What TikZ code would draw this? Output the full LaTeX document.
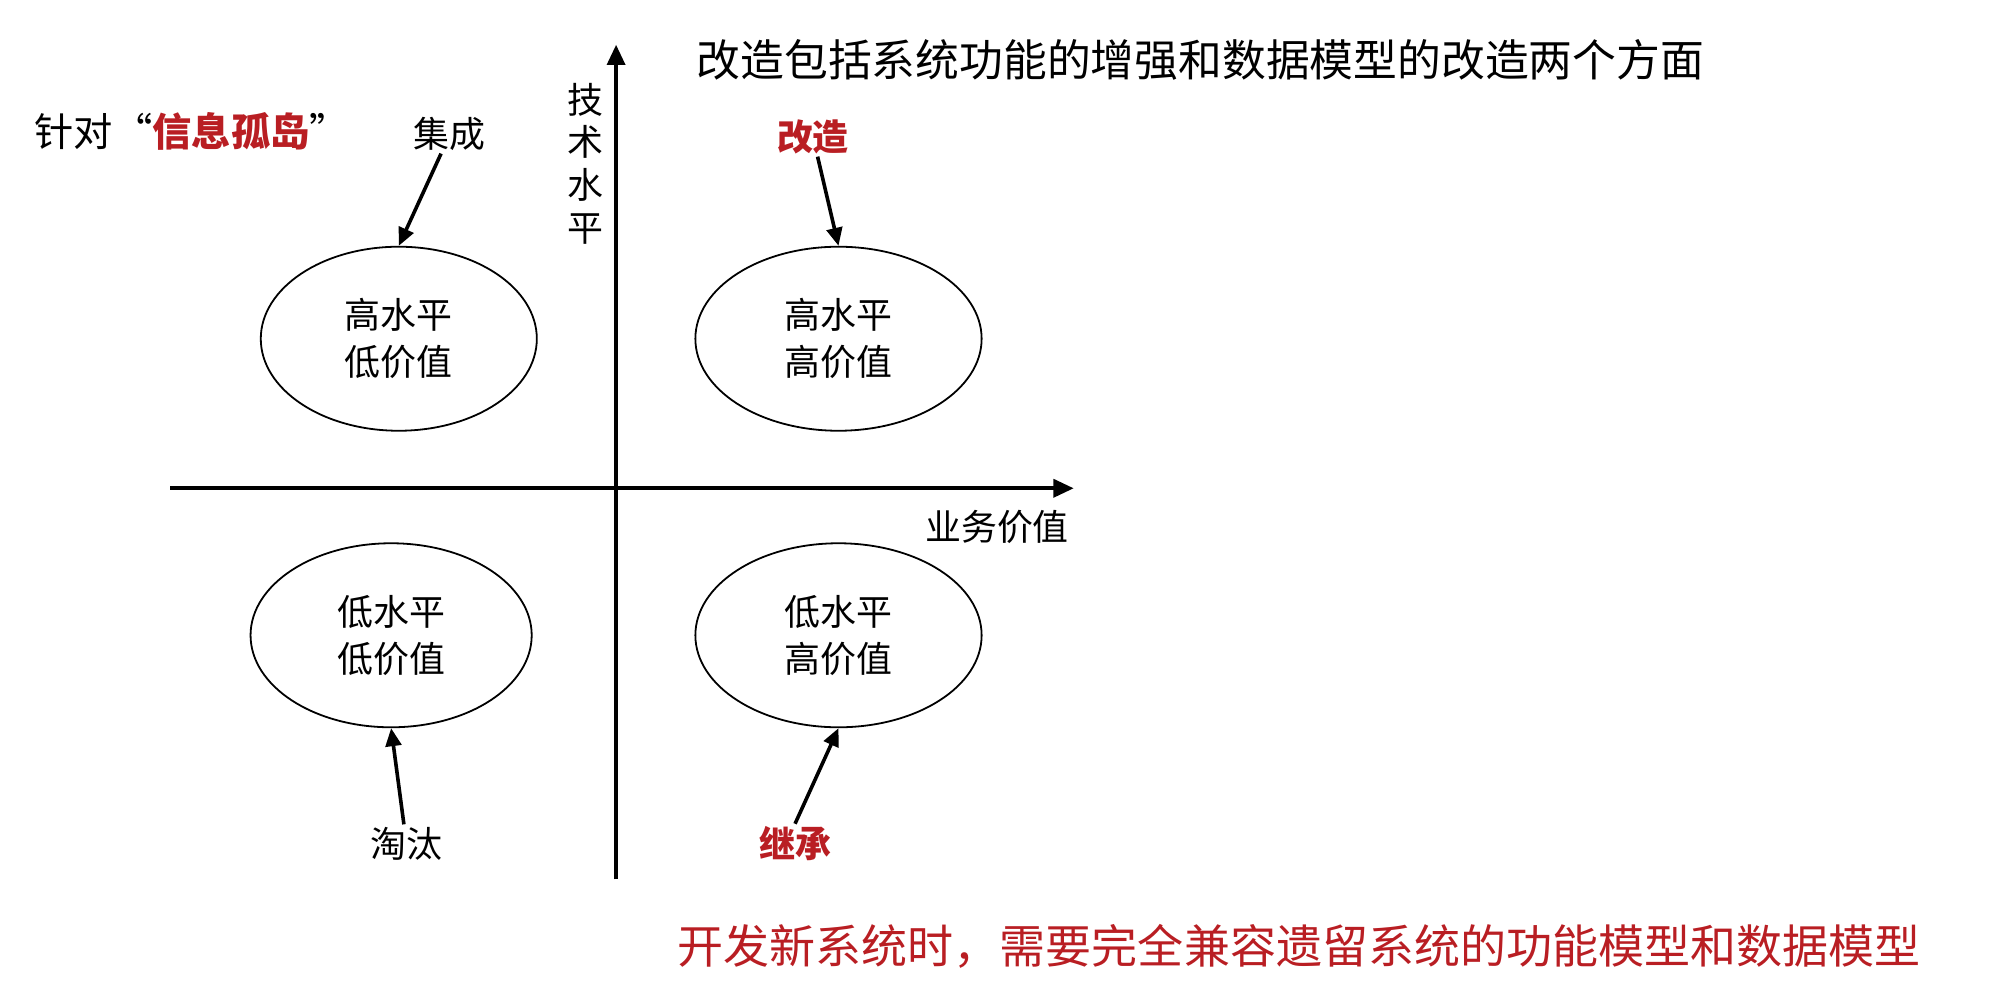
\documentclass[tikz,border=0pt]{standalone}
\usepackage{fontspec}
\newfontfamily\cjk{Noto Sans CJK SC}
\usetikzlibrary{arrows.meta,shapes.geometric}
\definecolor{dred}{RGB}{185,30,35}
\begin{document}
\begin{tikzpicture}[x=0.02cm,y=-0.02cm,font=\cjk\fontsize{16}{20}\selectfont,
  ov/.style={draw,ellipse,line width=0.8pt,minimum height=2.88cm,align=center,font=\cjk\fontsize{16}{21}\selectfont},
  ax/.style={line width=1.6pt,-{Triangle[length=9pt,width=8pt]}},
  ar/.style={line width=1.6pt,-{Triangle[length=8pt,width=7pt]}},
  lab/.style={inner sep=1pt}]
\useasboundingbox (0,0) rectangle (1560,772);
\coordinate (vb) at (482,688); \coordinate (vt) at (482,35);
\coordinate (hl) at (133,382); \coordinate (hr) at (840,382);
\draw[ax] (vb) -- (vt);
\draw[ax] (hl) -- (hr);
\node[lab,align=center,font=\cjk\fontsize{16}{19}\selectfont] (ty) at (458,128) {技\\术\\水\\平};
\node[lab] (tx) at (780,412) {业务价值};
\node[ov,minimum width=4.32cm] (e1) at (312,265) {高水平\\低价值};
\node[ov,minimum width=4.48cm] (e2) at (656,265) {高水平\\高价值};
\node[ov,minimum width=4.4cm] (e3) at (306,497) {低水平\\低价值};
\node[ov,minimum width=4.48cm] (e4) at (656,497) {低水平\\高价值};
\node[lab] (l1) at (352,105) {集成};
\node[lab,text=dred,font=\cjk\bfseries\fontsize{16}{20}\selectfont] (l2) at (636,107) {改造};
\node[lab] (l3) at (318,660) {淘汰};
\node[lab,text=dred,font=\cjk\bfseries\fontsize{16}{20}\selectfont] (l4) at (622,660) {继承};
\draw[ar] (l1) -- (e1.north);
\draw[ar] (l2) -- (e2.north);
\draw[ar] (l3) -- (e3.south);
\draw[ar] (l4.north) -- (e4.south);
\node[lab,anchor=west,font=\cjk\fontsize{17.5}{20}\selectfont] (left) at (25,103) {针对“\textcolor{dred}{\bfseries 信息孤岛}”};
\node[lab,anchor=west,font=\cjk\fontsize{19.5}{22}\selectfont] (title) at (543,47) {改造包括系统功能的增强和数据模型的改造两个方面};
\node[lab,anchor=west,text=dred,font=\cjk\fontsize{20.5}{22}\selectfont] (bot) at (528,740) {开发新系统时，需要完全兼容遗留系统的功能模型和数据模型};
\end{tikzpicture}
\end{document}
